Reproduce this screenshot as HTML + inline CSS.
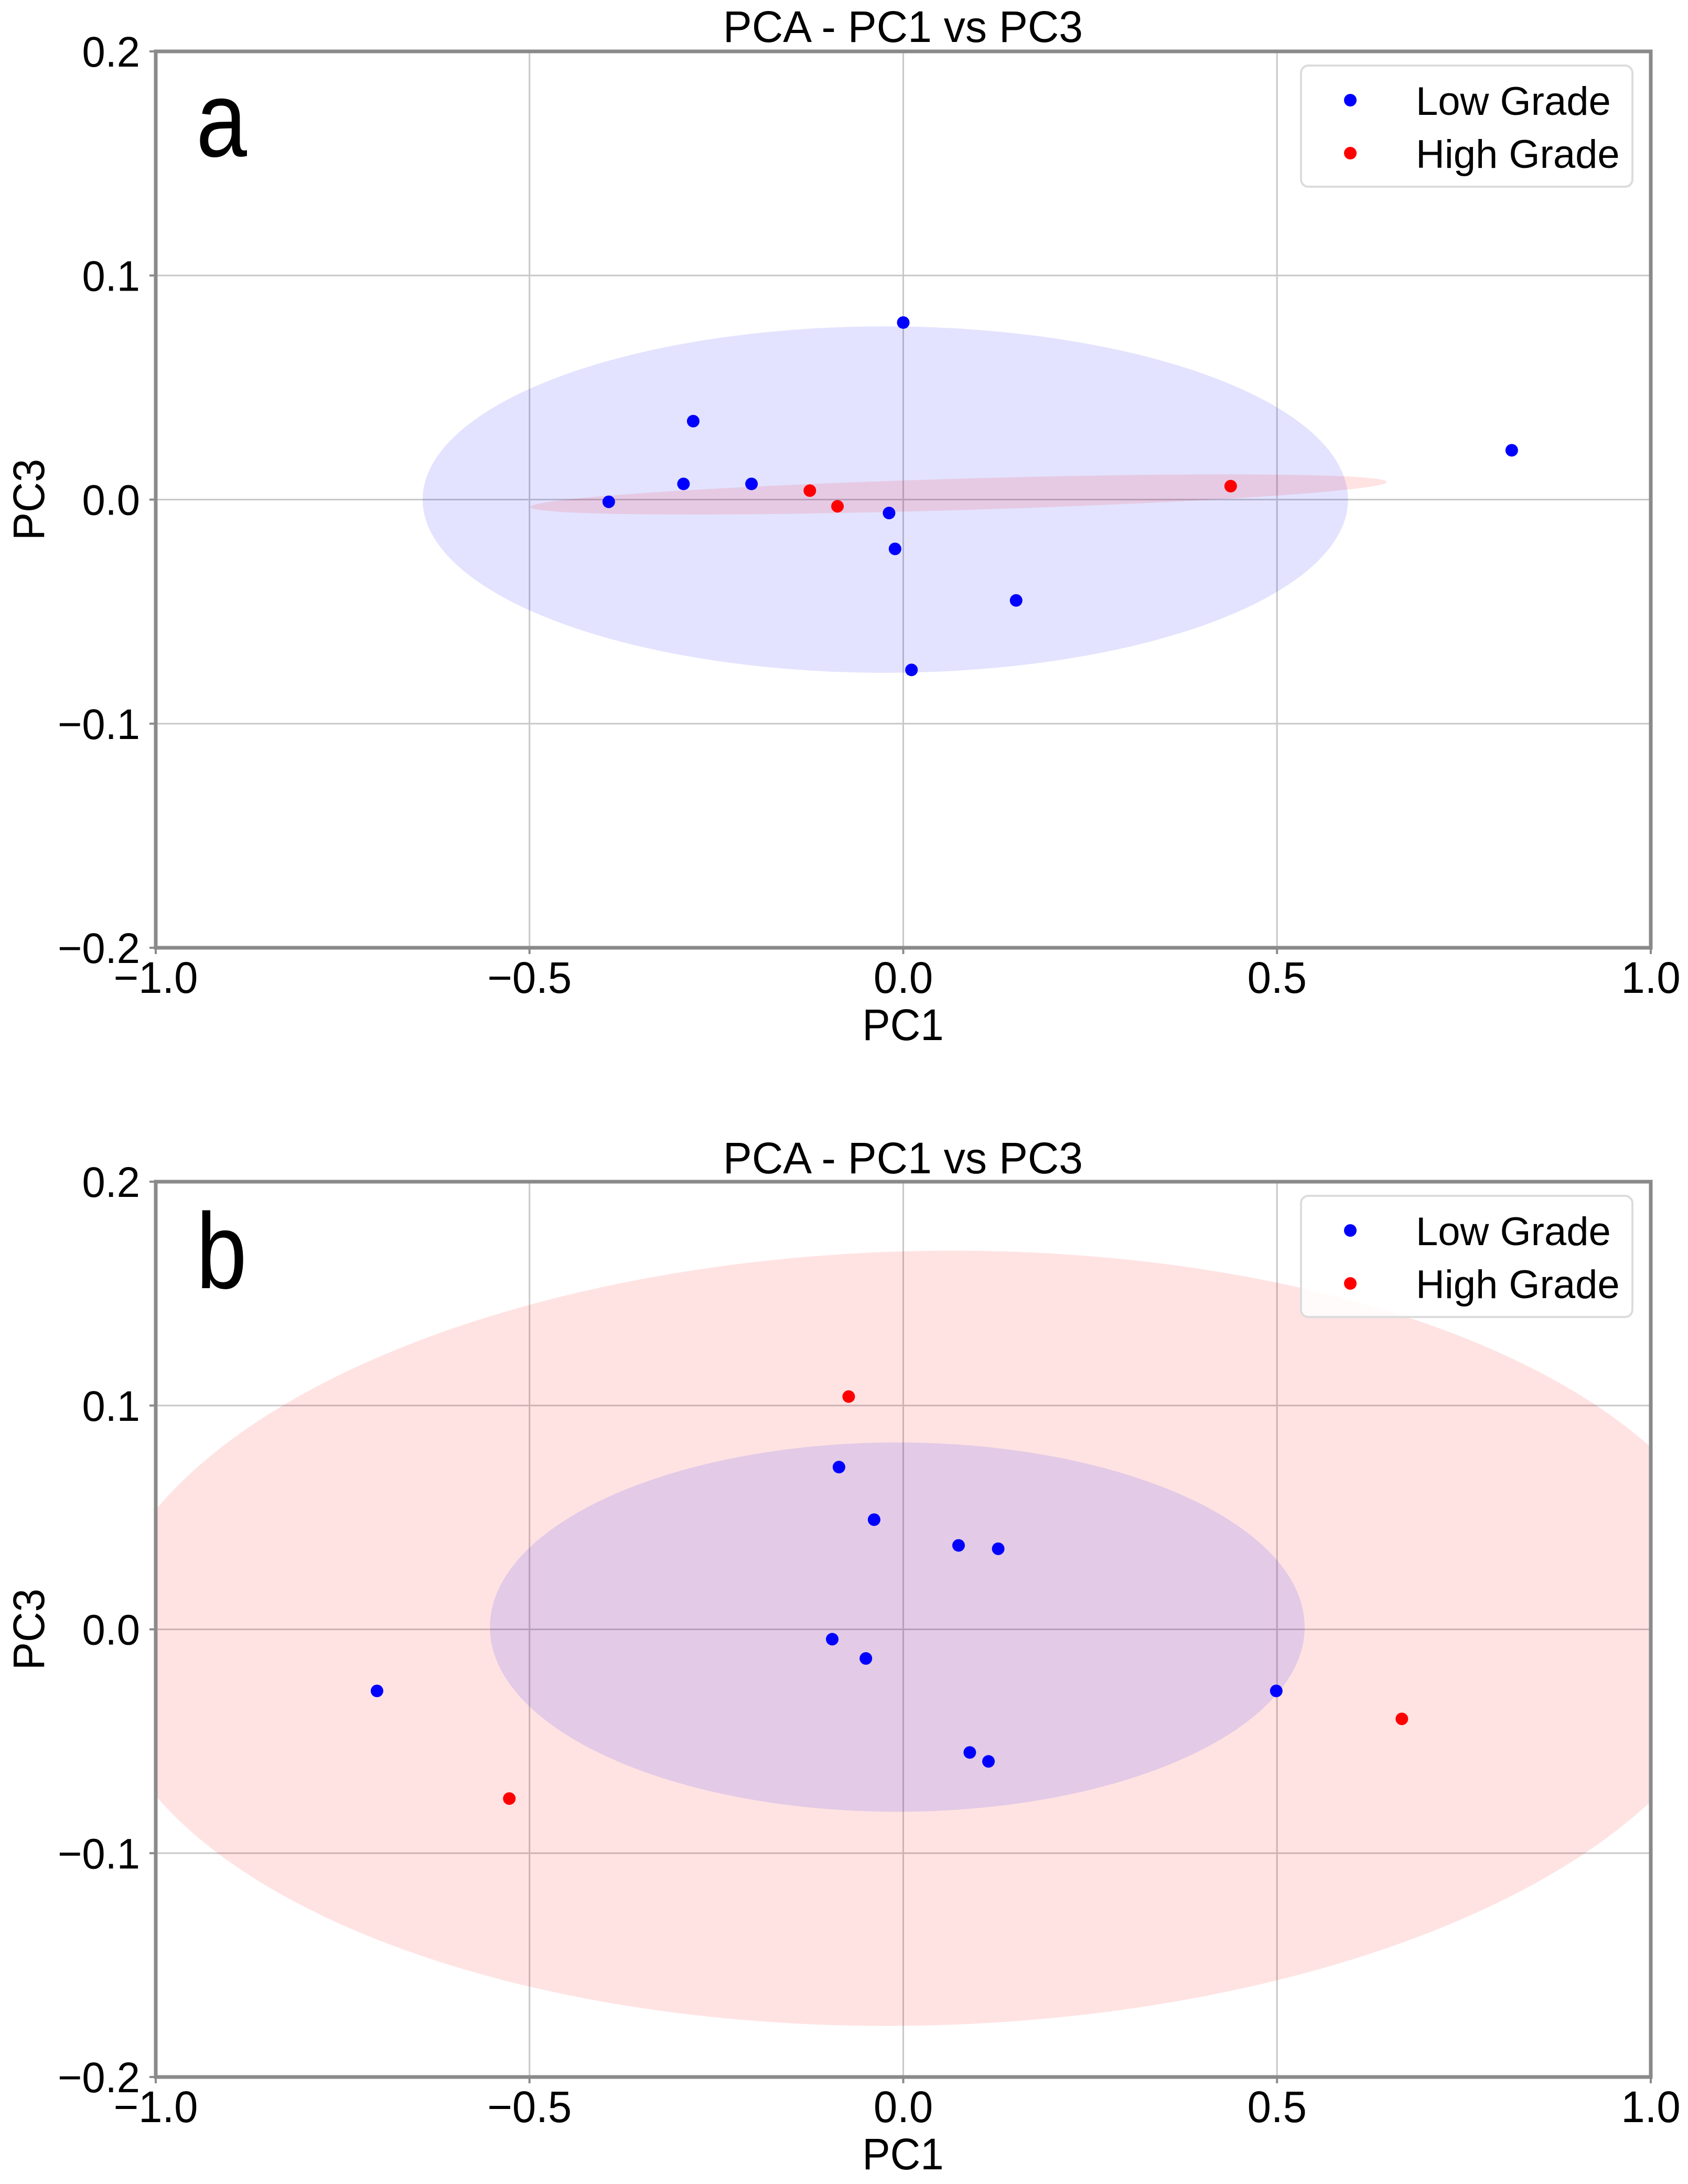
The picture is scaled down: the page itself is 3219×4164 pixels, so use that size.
<!DOCTYPE html>
<html><head><meta charset="utf-8"><style>html,body{margin:0;padding:0;background:#fff}svg{display:block}text{font-family:"Liberation Sans",Arial,sans-serif;fill:#000}</style></head>
<body>
<svg id="fig" width="3219" height="4164" viewBox="0 0 3219 4164" xmlns="http://www.w3.org/2000/svg">
<defs>
<clipPath id="clipA"><rect x="297" y="98" width="2851" height="1709"/></clipPath>
<clipPath id="clipB"><rect x="297" y="2253" width="2851" height="1707"/></clipPath>
</defs>
</svg>
<script>
// ---- data: panel a ----
const aLowX = [-0.394, -0.294, -0.281, -0.203, -0.019, -0.011, 0.000, 0.011, 0.151, 0.814];
const aLowY = [-0.001, 0.007, 0.035, 0.007, -0.006, -0.022, 0.079, -0.076, -0.045, 0.022];
const aHighX = [-0.125, -0.088, 0.438];
const aHighY = [0.004, -0.003, 0.006];
// ellipse params: [cx, cy, rx, ry, angleDeg]
const aLowEllipse = [-0.024, 0.000, 0.619, 0.0773, 0];
const aHighEllipse = [0.074, 0.0023, 0.573, 0.007, -1.68];
// ---- data: panel b ----
const bLowX = [-0.704, -0.095, -0.086, -0.050, -0.039, 0.074, 0.089, 0.114, 0.127, 0.499];
const bLowY = [-0.0275, -0.0044, 0.0725, -0.013, 0.049, 0.0375, -0.055, -0.059, 0.036, -0.0275];
const bHighX = [-0.527, -0.073, 0.667];
const bHighY = [-0.0756, 0.104, -0.040];
const bLowEllipse = [-0.008, 0.001, 0.545, 0.0825, 0];
const bHighEllipse = [0.022, -0.004, 1.10, 0.173, -1.4];
// ---- ticks ----
const xTicks = [-1.0, -0.5, 0.0, 0.5, 1.0];
const xTickLabels = ["\u22121.0", "\u22120.5", "0.0", "0.5", "1.0"];
const yTicks = [0.2, 0.1, 0.0, -0.1, -0.2];
const yTickLabels = ["0.2", "0.1", "0.0", "\u22120.1", "\u22120.2"];
const legendLabels = ["Low Grade", "High Grade"];

const NS = "http://www.w3.org/2000/svg";
const svg = document.getElementById('fig');
function mk(tag, attrs, parent) {
  const e = document.createElementNS(NS, tag);
  for (const k in attrs) e.setAttribute(k, attrs[k]);
  (parent || svg).appendChild(e);
  return e;
}
function txt(parent, x, y, s, size, anchor, sx, rot) {
  const t = mk('text', {x: 0, y: 0, 'font-size': size, 'text-anchor': anchor,
    transform: 'translate(' + x + ',' + y + ')' + (rot ? ' rotate(' + rot + ')' : '') + ' scale(' + sx + ',1)'}, parent);
  t.textContent = s;
  return t;
}
const L = 297, R = 3148;
function xs(v) { return L + (v + 1) * (R - L) / 2; }

function panel(top, bottom, letter, letterBase, titleBase, lowX, lowY, highX, highY, lowE, highE, clipId, highFirst) {
  const ys = v => top + (0.2 - v) * (bottom - top) / 0.4;
  const g = mk('g', {});
  
  
  const grid = mk('g', {}, g);
  
  
  xTicks.forEach(v => { mk('line', {x1: xs(v), x2: xs(v), y1: top, y2: bottom, stroke: '#c8c8c8', 'stroke-width': 3}, grid); });
  yTicks.forEach(v => { mk('line', {x1: L, x2: R, y1: ys(v), y2: ys(v), stroke: '#c8c8c8', 'stroke-width': 3}, grid); });
  const eg = mk('g', {'clip-path': 'url(#' + clipId + ')'}, g);
  function ell(p, color, name) {
    const cx = xs(p[0]), cy = ys(p[1]);
    const rx = p[2] * (R - L) / 2, ry = p[3] * (bottom - top) / 0.4;
    const e = mk('ellipse', {cx: cx, cy: cy, rx: rx, ry: ry, fill: color, 'fill-opacity': 0.11,
      transform: 'rotate(' + p[4] + ',' + cx + ',' + cy + ')'}, eg);
    
    
  }
  if (highFirst) { ell(highE, '#ff0000', 'high-grade-ellipse'); ell(lowE, '#0000ff', 'low-grade-ellipse'); }
  else { ell(lowE, '#0000ff', 'low-grade-ellipse'); ell(highE, '#ff0000', 'high-grade-ellipse'); }
  lowX.forEach((v, i) => {
    const c = mk('circle', {cx: xs(v), cy: ys(lowY[i]), r: 12, fill: '#0000ff'}, g);
    
    
  });
  highX.forEach((v, i) => {
    const c = mk('circle', {cx: xs(v), cy: ys(highY[i]), r: 12, fill: '#ff0000'}, g);
    
    
  });
  const sp = mk('rect', {x: L, y: top, width: R - L, height: bottom - top, fill: 'none', stroke: '#8a8a8a', 'stroke-width': 7}, g);
  
  
  xTicks.forEach((v, i) => {
    mk('line', {x1: xs(v), x2: xs(v), y1: bottom, y2: bottom + 12, stroke: '#8a8a8a', 'stroke-width': 4}, g);
    const t = txt(g, xs(v), bottom + 86, xTickLabels[i], 84, 'middle', 0.97);
    
    
  });
  yTicks.forEach((v, i) => {
    mk('line', {x1: L - 12, x2: L, y1: ys(v), y2: ys(v), stroke: '#8a8a8a', 'stroke-width': 4}, g);
    const t = txt(g, 267, ys(v) + 29, yTickLabels[i], 82, 'end', 0.97);
    
    
  });
  const ti = txt(g, 1722, titleBase, 'PCA - PC1 vs PC3', 84, 'middle', 0.98);
  
  
  const xl = txt(g, 1722, bottom + 176, 'PC1', 84, 'middle', 0.95);
  
  
  const yl = txt(g, 84, (top + bottom) / 2, 'PC3', 84, 'middle', 0.95, -90);
  
  
  const pl = txt(g, 374, letterBase, letter, 205, 'start', 0.85);
  
  
  const lg = mk('g', {}, g);
  
  
  mk('rect', {x: 2481, y: top + 27, width: 632, height: 231, rx: 14, fill: '#fff', 'fill-opacity': 0.85, stroke: '#dcdcdc', 'stroke-width': 4}, lg);
  legendLabels.forEach((s, i) => {
    const yy = top + 93 + i * 101;
    const e = mk('g', {}, lg);
    
    
    mk('circle', {cx: 2575, cy: yy, r: 12, fill: i === 0 ? '#0000ff' : '#ff0000'}, e);
    txt(e, 2700, yy + 28, s, 76, 'start', 1.0);
  });
}
panel(98, 1807, 'a', 298, 80, aLowX, aLowY, aHighX, aHighY, aLowEllipse, aHighEllipse, 'clipA', false);
panel(2253, 3960, 'b', 2456, 2237, bLowX, bLowY, bHighX, bHighY, bLowEllipse, bHighEllipse, 'clipB', true);
</script>
</body></html>
